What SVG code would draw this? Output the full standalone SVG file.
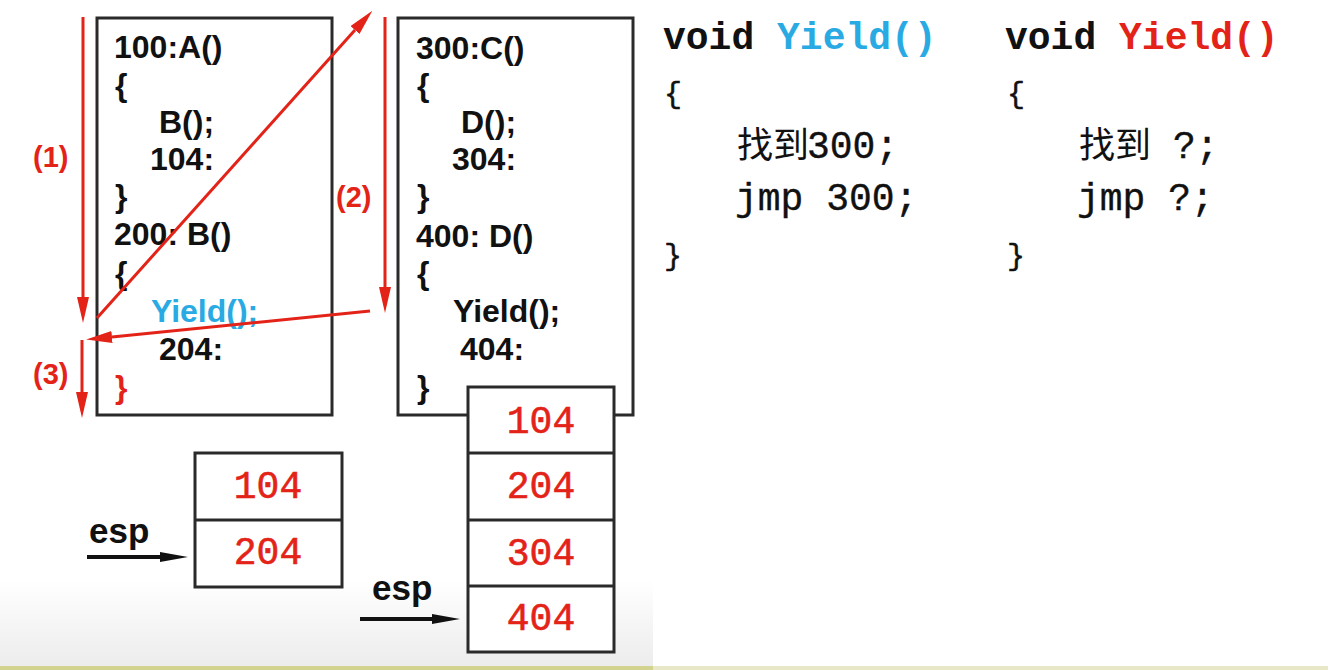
<svg xmlns="http://www.w3.org/2000/svg" width="1342" height="670" viewBox="0 0 1342 670">
<style>
.code{font-family:"Liberation Sans",Arial,sans-serif;font-weight:bold;font-size:32px;fill:#111}
.lbl{font-family:"Liberation Sans",Arial,sans-serif;font-weight:bold;font-size:29px;fill:#e42318}
.stk{font-family:"Liberation Mono","Courier New",monospace;font-size:38px;fill:#e42318;stroke:#e42318;stroke-width:0.6;text-anchor:middle}
.mono{font-family:"Liberation Mono","Courier New",monospace;font-size:38px;fill:#111;stroke:#111;stroke-width:0.4}
.brace{font-family:"Liberation Mono","Courier New",monospace;font-size:30px;fill:#111;stroke:#111;stroke-width:0.5}
.monob{font-family:"Liberation Mono","Courier New",monospace;font-weight:bold;font-size:38px;fill:#111}
.cjk{font-family:"Noto Sans CJK SC","Noto Sans",sans-serif;font-size:36px;fill:#111}
.esp{font-family:"Liberation Sans",Arial,sans-serif;font-weight:bold;font-size:35px;fill:#111}
.box{fill:#fff;stroke:#2a2a2a;stroke-width:3}
.red{stroke:#e42318;stroke-width:3;fill:none}
.blk{stroke:#111;stroke-width:4;fill:none}
</style>
<defs>
<linearGradient id="bg" x1="0" y1="0" x2="0" y2="1">
<stop offset="0" stop-color="#ffffff"/>
<stop offset="1" stop-color="#ececec"/>
</linearGradient>
<marker id="ah" markerUnits="userSpaceOnUse" markerWidth="26" markerHeight="12" viewBox="0 0 26 12" refX="0" refY="6" orient="auto">
<path d="M0,0 L26,6 L0,12 z" fill="#e42318"/>
</marker>
<marker id="ab" markerUnits="userSpaceOnUse" markerWidth="28" markerHeight="10" viewBox="0 0 28 10" refX="0" refY="5" orient="auto">
<path d="M0,0 L28,5 L0,10 z" fill="#111"/>
</marker>
</defs>
<rect x="0" y="0" width="1342" height="670" fill="#fff"/>
<rect x="0" y="580" width="653" height="87" fill="url(#bg)"/>
<rect x="0" y="666" width="653" height="4" fill="#d2d38e"/>
<rect x="653" y="666" width="675" height="4" fill="#e8e8c8"/>

<g id="box-ab">
<rect class="box" x="97" y="18" width="235" height="397"/>
<text class="code" x="114" y="58">100:A()</text>
<text class="code" x="115" y="96">{</text>
<text class="code" x="159" y="133">B();</text>
<text class="code" x="150" y="170">104:</text>
<text class="code" x="115" y="207">}</text>
<text class="code" x="114" y="245">200: B()</text>
<text class="code" x="115" y="284">{</text>
<text class="code" x="151" y="322" style="fill:#2aaae2">Yield();</text>
<text class="code" x="159" y="360">204:</text>
<text class="code" x="115" y="398" style="fill:#e42318">}</text>
</g>

<g id="box-cd">
<rect class="box" x="398" y="18" width="235" height="397"/>
<text class="code" x="416" y="59">300:C()</text>
<text class="code" x="417" y="96">{</text>
<text class="code" x="461" y="133">D();</text>
<text class="code" x="452" y="170">304:</text>
<text class="code" x="417" y="207">}</text>
<text class="code" x="416" y="247">400: D()</text>
<text class="code" x="417" y="284">{</text>
<text class="code" x="453" y="322">Yield();</text>
<text class="code" x="460" y="360">404:</text>
<text class="code" x="417" y="398">}</text>
</g>

<g id="stack-left">
<rect class="box" x="195" y="453" width="147" height="134"/>
<line x1="195" y1="520" x2="342" y2="520" stroke="#2a2a2a" stroke-width="3"/>
<text class="stk" x="268" y="498">104</text>
<text class="stk" x="268" y="564">204</text>
</g>

<g id="stack-right">
<rect class="box" x="468" y="387" width="146" height="265"/>
<line x1="468" y1="453" x2="614" y2="453" stroke="#2a2a2a" stroke-width="3"/>
<line x1="468" y1="520" x2="614" y2="520" stroke="#2a2a2a" stroke-width="3"/>
<line x1="468" y1="586" x2="614" y2="586" stroke="#2a2a2a" stroke-width="3"/>
<text class="stk" x="541" y="433">104</text>
<text class="stk" x="541" y="498">204</text>
<text class="stk" x="541" y="565">304</text>
<text class="stk" x="541" y="630">404</text>
</g>

<g id="labels">
<text class="lbl" x="33" y="167">(1)</text>
<text class="lbl" x="336" y="207">(2)</text>
<text class="lbl" x="33" y="384">(3)</text>
<text class="esp" x="89" y="543">esp</text>
<text class="esp" x="372" y="600">esp</text>
</g>

<g id="yield-blue">
<text class="monob" x="663" y="49">void <tspan fill="#2aaae2">Yield()</tspan></text>
<text class="brace" x="664" y="103">{</text>
<text class="cjk" x="737" y="158">找到</text>
<text class="mono" x="807" y="158">300;</text>
<text class="mono" x="735" y="210">jmp 300;</text>
<text class="brace" x="664" y="265">}</text>
</g>

<g id="yield-red">
<text class="monob" x="1005" y="49">void <tspan fill="#e42318">Yield()</tspan></text>
<text class="brace" x="1007" y="103">{</text>
<text class="cjk" x="1079" y="158">找到</text>
<text class="mono" x="1173" y="158">?;</text>
<text class="mono" x="1077" y="210">jmp ?;</text>
<text class="brace" x="1007" y="265">}</text>
</g>

<g id="connectors">
<path class="red" d="M83,17 L83,297" marker-end="url(#ah)"/>
<path class="red" d="M97,318 L355,30" marker-end="url(#ah)"/>
<path class="red" d="M385,17 L385,287" marker-end="url(#ah)"/>
<path class="red" d="M370,311 L112,337" marker-end="url(#ah)"/>
<path class="red" d="M82,340 L82,392" marker-end="url(#ah)"/>
<path class="blk" d="M87,557 L160,557" marker-end="url(#ab)"/>
<path class="blk" d="M360,619 L432,619" marker-end="url(#ab)"/>
</g>
</svg>
